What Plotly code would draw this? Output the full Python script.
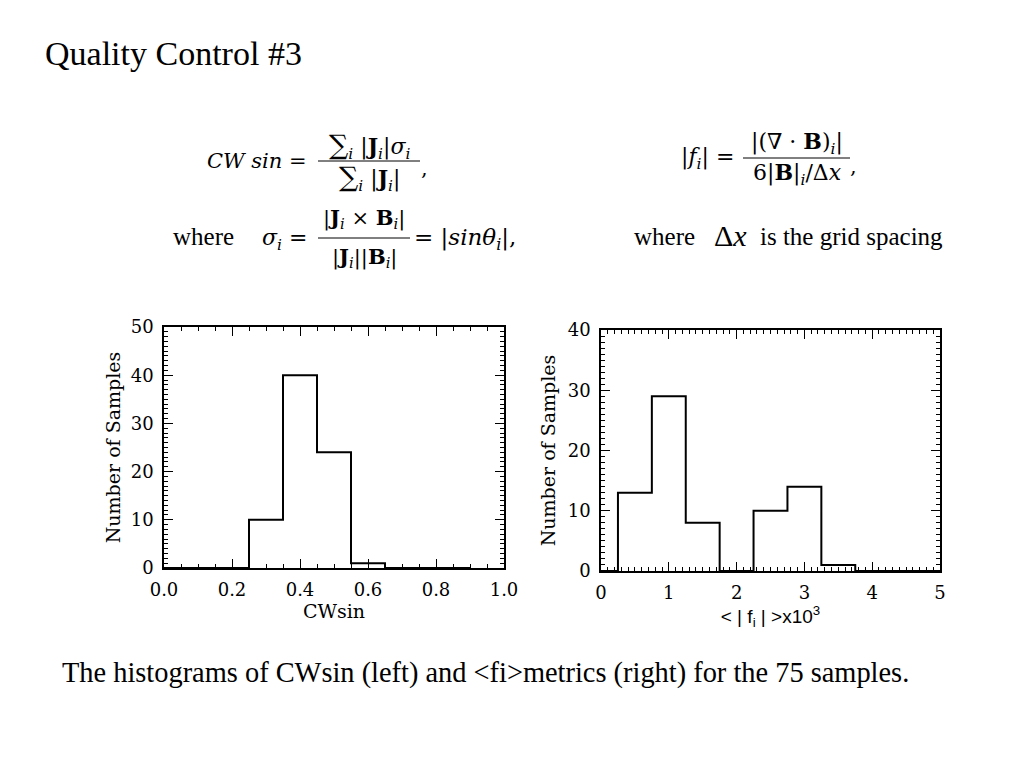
import plotly.graph_objects as go

# ---------------- data ----------------
cw_centers = [0.0, 0.1, 0.2, 0.3, 0.4, 0.5, 0.6, 0.7, 0.8, 0.9]
cw_counts = [0, 0, 0, 10, 40, 24, 1, 0, 0, 0]

fi_centers = [0.0, 0.5, 1.0, 1.5, 2.0, 2.5, 3.0, 3.5, 4.0, 4.5, 5.0]
fi_counts = [0, 13, 29, 8, 0, 10, 14, 1, 0, 0, 0]

left_xticks = [0.0, 0.2, 0.4, 0.6, 0.8, 1.0]
left_xticklabels = ["0.0", "0.2", "0.4", "0.6", "0.8", "1.0"]
left_yticks = [0, 10, 20, 30, 40, 50]
right_xticks = [0, 1, 2, 3, 4, 5]
right_yticks = [0, 10, 20, 30, 40]

W, H = 1024, 768
OFF = 8  # page body margin


def px(x):
    return (x - OFF) / W


def py(y):
    return 1 - (y - OFF) / H


SERIF = "DejaVu Serif"
TIMES = "Liberation Serif"
MATH = "DejaVu Serif"

fig = go.Figure()

fig.add_trace(go.Scatter(x=cw_centers, y=cw_counts, mode="lines", line_shape="hvh",
                         line=dict(color="black", width=2), xaxis="x", yaxis="y",
                         showlegend=False, hoverinfo="skip"))
fig.add_trace(go.Scatter(x=fi_centers, y=fi_counts, mode="lines", line_shape="hvh",
                         line=dict(color="black", width=2), xaxis="x2", yaxis="y2",
                         showlegend=False, hoverinfo="skip"))

axis_common = dict(showline=True, linecolor="black", linewidth=1.5, mirror="allticks",
                   ticks="inside", ticklen=9, tickwidth=1.3, tickcolor="black",
                   showgrid=False, zeroline=False, automargin=False,
                   tickfont=dict(family=SERIF, size=18, color="black"))

xtitle_font = dict(family=SERIF, size=19, color="black")

fig.update_layout(
    template="none",
    width=W, height=H,
    margin=dict(l=0, r=0, t=0, b=0, autoexpand=False),
    paper_bgcolor="white", plot_bgcolor="white",
    xaxis=dict(domain=[px(164), px(504)], range=[0, 1], anchor="y",
               tickvals=left_xticks, ticktext=left_xticklabels,
               minor=dict(dtick=0.05, ticks="inside", ticklen=4, tickcolor="black", showgrid=False),
               title=dict(text="CWsin", font=xtitle_font, standoff=2),
               ticklabelstandoff=5,
               **axis_common),
    yaxis=dict(domain=[py(568), py(327)], range=[0, 50], anchor="x",
               tickvals=left_yticks,
               minor=dict(dtick=1, ticks="inside", ticklen=4, tickcolor="black", showgrid=False),
               title=dict(text="Number of Samples", font=xtitle_font, standoff=5),
               ticklabelstandoff=5,
               **axis_common),
    xaxis2=dict(domain=[px(601), px(940)], range=[0, 5], anchor="y2",
                tickvals=right_xticks,
                minor=dict(dtick=0.1, ticks="inside", ticklen=4, tickcolor="black", showgrid=False),
                title=dict(text="&lt; | f<sub>i</sub> | &gt;x10<sup>3</sup>",
                           font=dict(family="Liberation Sans", size=19, color="black"), standoff=3),
                ticklabelstandoff=5,
                **axis_common),
    yaxis2=dict(domain=[py(571), py(330)], range=[0, 40], anchor="x2",
                tickvals=right_yticks,
                minor=dict(dtick=1, ticks="inside", ticklen=4, tickcolor="black", showgrid=False),
                title=dict(text="Number of Samples", font=xtitle_font, standoff=7),
                ticklabelstandoff=5,
                **axis_common),
)

ann = []
shapes = []


def text(x, y, s, size=20, family=TIMES, xanchor="left"):
    ann.append(dict(x=px(x), y=py(y), xref="paper", yref="paper", text=s, showarrow=False,
                    xanchor=xanchor, yanchor="middle", borderpad=0,
                    font=dict(family=family, size=size, color="black")))


def hline(x0, x1, y):
    shapes.append(dict(type="line", xref="paper", yref="paper", x0=px(x0), x1=px(x1),
                       y0=py(y), y1=py(y), line=dict(color="black", width=1)))


SUM = '<span style="font-size:27px">∑</span>'

# Title
text(44, 53, "Quality Control #3", size=34)

# Left formula
text(206, 161, "<i>CW sin</i> =", size=21, family=MATH)
text(369, 146, SUM + "<sub><i>i</i></sub> |<b>J</b><sub><i>i</i></sub>|<i>σ</i><sub><i>i</i></sub>", size=22, family=MATH, xanchor="center")
hline(318, 420, 161)
text(369, 178, SUM + "<sub><i>i</i></sub> |<b>J</b><sub><i>i</i></sub>|", size=22, family=MATH, xanchor="center")
text(420, 168, ",", size=21, family=MATH)

text(172, 236, "where", size=25)
text(261, 239, "<i>σ</i><sub><i>i</i></sub> =", size=22, family=MATH)
text(364, 219, "|<b>J</b><sub><i>i</i></sub> × <b>B</b><sub><i>i</i></sub>|", size=21, family=MATH, xanchor="center")
hline(318, 410, 238)
text(364, 257, "|<b>J</b><sub><i>i</i></sub>||<b>B</b><sub><i>i</i></sub>|", size=21, family=MATH, xanchor="center")
text(413, 239, "= |<i>sinθ</i><sub><i>i</i></sub>|,", size=23, family=MATH)

# Right formula
text(680, 158, "|<i>f</i><sub><i>i</i></sub>| =", size=22, family=MATH)
text(797, 143, "|(∇ · <b>B</b>)<sub><i>i</i></sub>|", size=22, family=MATH, xanchor="center")
hline(743, 850, 158)
text(797, 174, "6|<b>B</b>|<sub><i>i</i></sub>/Δ<i>x</i>", size=22, family=MATH, xanchor="center")
text(849, 166, ",", size=21, family=MATH)

text(633, 237, "where", size=25)
text(713, 235, "Δ<i>x</i>", size=30)
text(759, 237, "is the grid spacing", size=25)

# Caption
text(61, 673, "The histograms of CWsin (left) and &lt;fi&gt;metrics (right) for the 75 samples.", size=28.4)

fig.update_layout(annotations=ann, shapes=shapes)

fig.write_html("out.html")
